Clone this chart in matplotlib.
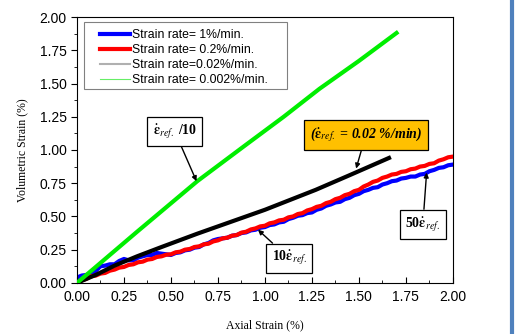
import matplotlib.pyplot as plt
from matplotlib.lines import Line2D
from matplotlib.patches import Rectangle
from matplotlib.ticker import MultipleLocator

plt.rcParams['mathtext.fontset'] = 'stix'

# Axial strain grid (%) for the 1% and 0.2% /min tests
strain_x = [0.000, 0.025, 0.050, 0.075, 0.100, 0.125, 0.150, 0.175, 0.200, 0.225,
            0.250, 0.275, 0.300, 0.325, 0.350, 0.375, 0.400, 0.425, 0.450, 0.475,
            0.500, 0.525, 0.550, 0.575, 0.600, 0.625, 0.650, 0.675, 0.700, 0.725,
            0.750, 0.775, 0.800, 0.825, 0.850, 0.875, 0.900, 0.925, 0.950, 0.975,
            1.000, 1.025, 1.050, 1.075, 1.100, 1.125, 1.150, 1.175, 1.200, 1.225,
            1.250, 1.275, 1.300, 1.325, 1.350, 1.375, 1.400, 1.425, 1.450, 1.475,
            1.500, 1.525, 1.550, 1.575, 1.600, 1.625, 1.650, 1.675, 1.700, 1.725,
            1.750, 1.775, 1.800, 1.825, 1.850, 1.875, 1.900, 1.925, 1.950, 1.975,
            2.000]

vol_1pct = [0.040, 0.055, 0.060, 0.070, 0.090, 0.125, 0.130, 0.140, 0.140, 0.165,
            0.180, 0.170, 0.170, 0.190, 0.200, 0.210, 0.210, 0.225, 0.220, 0.215,
            0.210, 0.225, 0.230, 0.245, 0.250, 0.265, 0.270, 0.290, 0.300, 0.320,
            0.330, 0.335, 0.340, 0.355, 0.360, 0.375, 0.380, 0.395, 0.400, 0.415,
            0.420, 0.435, 0.440, 0.455, 0.460, 0.480, 0.490, 0.505, 0.510, 0.525,
            0.530, 0.550, 0.560, 0.580, 0.590, 0.605, 0.610, 0.630, 0.640, 0.660,
            0.670, 0.690, 0.700, 0.715, 0.720, 0.740, 0.750, 0.765, 0.770, 0.785,
            0.790, 0.800, 0.800, 0.815, 0.820, 0.840, 0.850, 0.865, 0.870, 0.885,
            0.890]

vol_02pct = [0.000, 0.020, 0.030, 0.050, 0.055, 0.070, 0.075, 0.092, 0.100, 0.115,
             0.120, 0.135, 0.140, 0.155, 0.160, 0.175, 0.180, 0.195, 0.200, 0.212,
             0.215, 0.230, 0.235, 0.250, 0.255, 0.270, 0.275, 0.290, 0.295, 0.312,
             0.320, 0.335, 0.340, 0.355, 0.360, 0.378, 0.385, 0.402, 0.410, 0.425,
             0.430, 0.448, 0.455, 0.470, 0.475, 0.493, 0.500, 0.518, 0.525, 0.545,
             0.555, 0.572, 0.580, 0.600, 0.610, 0.630, 0.640, 0.660, 0.670, 0.690,
             0.700, 0.725, 0.740, 0.760, 0.770, 0.790, 0.800, 0.815, 0.820, 0.835,
             0.840, 0.855, 0.860, 0.875, 0.880, 0.895, 0.900, 0.920, 0.930, 0.945,
             0.950]

# 0.02 %/min test
x_002 = [0.00, 0.05, 0.10, 0.20, 0.32, 0.45, 0.64, 0.80, 1.00, 1.27, 1.45, 1.66]
vol_002 = [0.00, 0.03, 0.06, 0.13, 0.20, 0.27, 0.37, 0.45, 0.55, 0.70, 0.81, 0.94]

# 0.002 %/min test
x_0002 = [0.00, 0.10, 0.32, 0.64, 0.90, 1.10, 1.29, 1.50, 1.70]
vol_0002 = [0.00, 0.12, 0.385, 0.765, 1.04, 1.25, 1.46, 1.67, 1.88]

labels = ['Strain rate= 1%/min.', 'Strain rate= 0.2%/min.',
          'Strain rate=0.02%/min.', 'Strain rate= 0.002%/min.']

fig = plt.figure(figsize=(5.2, 3.34), dpi=100)
ax = fig.add_axes([0.148, 0.153, 0.723, 0.796])

ax.plot(strain_x, vol_1pct, color='#0000ff', lw=3.0, zorder=2)
ax.plot(strain_x, vol_02pct, color='#ff0000', lw=3.0, zorder=3)
ax.plot(x_002, vol_002, color='black', lw=3.0, zorder=4)
ax.plot(x_0002, vol_0002, color='#00ee00', lw=3.0, zorder=5)

ax.set_xlim(0, 2)
ax.set_ylim(0, 2)
ax.xaxis.set_major_locator(MultipleLocator(0.25))
ax.xaxis.set_minor_locator(MultipleLocator(0.125))
ax.yaxis.set_major_locator(MultipleLocator(0.25))
ax.yaxis.set_minor_locator(MultipleLocator(0.125))
ax.xaxis.set_major_formatter('{x:.2f}')
ax.yaxis.set_major_formatter('{x:.2f}')
ax.tick_params(axis='x', which='both', direction='in', labelsize=10, pad=5)
ax.tick_params(axis='y', which='both', direction='out', labelsize=10)
ax.tick_params(which='major', length=4)
ax.tick_params(which='minor', length=2.5)
for lab in ax.get_xticklabels() + ax.get_yticklabels():
    lab.set_family('Liberation Sans')

ax.set_xlabel('Axial Strain (%)', family='Liberation Serif', fontsize=8.5, labelpad=11)
ax.set_ylabel('Volumetric Strain (%)', family='Liberation Serif', fontsize=8.5, labelpad=8)

# legend, with its frame drawn as a separate box
handles = [Line2D([], [], color='#0000ff', lw=3),
           Line2D([], [], color='#ff0000', lw=3),
           Line2D([], [], color='#b0b0b0', lw=1.5),
           Line2D([], [], color='#66ee66', lw=0.8)]
ax.add_patch(Rectangle((0.0186, 0.729), 0.540, 0.252, transform=ax.transAxes,
                       fc='white', ec='#808080', lw=0.8, zorder=7))
leg = ax.legend(handles, labels, loc='upper left', bbox_to_anchor=(0.061, 0.955),
                prop={'family': 'Liberation Sans', 'size': 8.8}, frameon=False,
                handlelength=2.5, handletextpad=0.15, labelspacing=0.25,
                borderpad=0, borderaxespad=0)
leg.set_zorder(8)

eps = r'$\mathbf{\dot{\varepsilon}}$'
box = dict(boxstyle='square,pad=0.4', fc='white', ec='black', lw=0.9)
arrow = dict(arrowstyle='-|>', color='black', lw=1.0, mutation_scale=7,
             shrinkA=0, shrinkB=0)
font = dict(family='Liberation Serif', fontsize=10, fontweight='bold',
            ha='center', va='center')

ax.annotate(eps + r'$_{\mathit{ref.}}$ /10', xy=(0.636, 0.765), xytext=(0.52, 1.14),
            bbox=box, arrowprops=arrow, zorder=6, **font)
ax.annotate(r'(' + eps + r'$_{\mathit{ref.}}$ = 0.02 %/min)', xy=(1.485, 0.86),
            xytext=(1.537, 1.115), bbox=dict(box, fc='#ffc000'), arrowprops=arrow,
            style='italic', zorder=6, **font)
ax.annotate('10' + eps + r'$_{\mathit{ref.}}$', xy=(0.963, 0.40), xytext=(1.128, 0.185),
            bbox=box, arrowprops=arrow, zorder=6, **font)
ax.annotate('50' + eps + r'$_{\mathit{ref.}}$', xy=(1.86, 0.83), xytext=(1.84, 0.44),
            bbox=box, arrowprops=arrow, zorder=6, **font)

# page border line at the right
fig.add_artist(Line2D([0.984, 0.984], [0, 1], color='#4f81bd', lw=3,
                      transform=fig.transFigure))

fig.savefig('out.png', dpi=100)
